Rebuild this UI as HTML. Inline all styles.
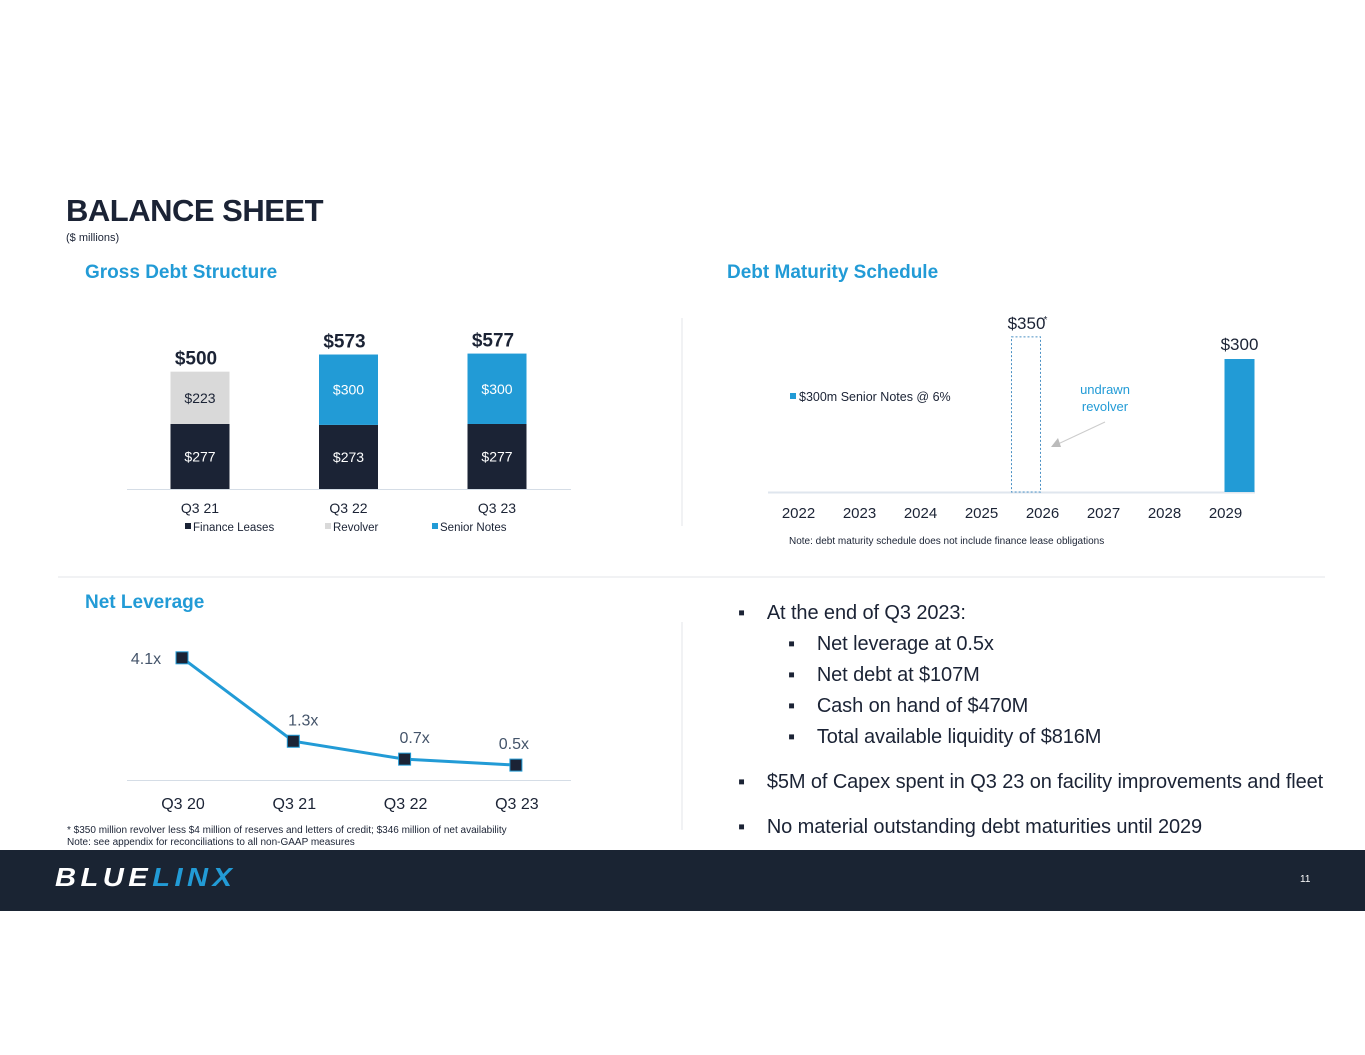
<!DOCTYPE html>
<html><head><meta charset="utf-8"><style>
body{margin:0;width:1365px;height:1055px;background:#fff;font-family:"Liberation Sans","DejaVu Sans",sans-serif;position:relative;overflow:hidden}
.a{position:absolute;white-space:nowrap}
</style></head><body>
<div class="a" style="left:66px;top:193px;font-size:31px;font-weight:bold;color:#1b2335;letter-spacing:-0.5px">BALANCE SHEET</div>
<div class="a" style="left:66px;top:232px;font-size:11px;color:#1b2335">($ millions)</div>
<div class="a" style="left:85px;top:262px;font-size:19px;font-weight:bold;color:#229bd6">Gross Debt Structure</div>
<div class="a" style="left:727px;top:262px;font-size:19px;font-weight:bold;color:#229bd6">Debt Maturity Schedule</div>
<div class="a" style="left:85px;top:592px;font-size:19px;font-weight:bold;color:#229bd6">Net Leverage</div>

<svg class="a" style="left:0;top:0" width="1365" height="1055">
<line x1="682" y1="318" x2="682" y2="526" stroke="#e3e6ea"/>
<line x1="682" y1="622" x2="682" y2="830" stroke="#e3e6ea"/>
<line x1="58" y1="577" x2="1325" y2="577" stroke="#e3e6ea"/>
<g id="g1"></g><g id="g2"></g><g id="g3"></g>
</svg>

<div class="a" style="left:738px;top:598px;font-size:20px;color:#1b2335;line-height:31px;letter-spacing:-0.1px">
<div>▪&nbsp;&nbsp;&nbsp;&nbsp;At the end of Q3 2023:</div>
<div style="padding-left:50px">▪&nbsp;&nbsp;&nbsp;&nbsp;Net leverage at 0.5x</div>
<div style="padding-left:50px">▪&nbsp;&nbsp;&nbsp;&nbsp;Net debt at $107M</div>
<div style="padding-left:50px">▪&nbsp;&nbsp;&nbsp;&nbsp;Cash on hand of $470M</div>
<div style="padding-left:50px">▪&nbsp;&nbsp;&nbsp;&nbsp;Total available liquidity of $816M</div>
<div style="margin-top:14px">▪&nbsp;&nbsp;&nbsp;&nbsp;$5M of Capex spent in Q3 23 on facility improvements and fleet</div>
<div style="margin-top:14px">▪&nbsp;&nbsp;&nbsp;&nbsp;No material outstanding debt maturities until 2029</div>
</div>
<div class="a" style="left:67px;top:825px;font-size:10px;color:#1b2335;line-height:12px">* $350 million revolver less $4 million of reserves and letters of credit; $346 million of net availability<br>Note: see appendix for reconciliations to all non-GAAP measures</div>
<div class="a" style="left:0;top:850px;width:1365px;height:61px;background:#1a2433"></div>
<div class="a" style="left:55px;top:862px;font-size:26px;font-weight:900;font-style:italic;letter-spacing:4px;color:#fff;transform:scaleX(1.12);transform-origin:left">BLUE<span style="color:#229bd6">LINX</span></div>
<div class="a" style="left:1300px;top:874px;font-size:10px;color:#fff">11</div>

<script>
const NS="http://www.w3.org/2000/svg";
function mk(p,t,a,txt){const e=document.createElementNS(NS,t);for(const k in a)e.setAttribute(k,a[k]);if(txt!=null)e.textContent=txt;p.appendChild(e);return e;}
// Gross debt
const gdCats=["Q3 21","Q3 22","Q3 23"];
const gdLeases=[277,273,277];
const gdRevolver=[223,0,0];
const gdNotes=[0,300,300];
const gdTotals=["$500","$573","$577"];
// Maturity
const matYears=["2022","2023","2024","2025","2026","2027","2028","2029"];
const matRevolver=[0,0,0,0,350,0,0,0];
const matNotes=[0,0,0,0,0,0,0,300];
// Leverage
const levCats=["Q3 20","Q3 21","Q3 22","Q3 23"];
const levVals=[4.1,1.3,0.7,0.5];

const g1=document.getElementById('g1');
const y1=v=>v*0.2347, base1=489, x1=i=>200+148.5*i;
mk(g1,'line',{x1:127,y1:base1+0.5,x2:571,y2:base1+0.5,stroke:'#d5dde6'});
gdCats.forEach((c,i)=>{
 const cx=x1(i);let top=base1;
 [[gdLeases[i],'#1b2335','#fff','finance-leases'],[gdRevolver[i],'#d9d9d9','#1b2335','revolver'],[gdNotes[i],'#229bd6','#fff','senior-notes']].forEach(([v,col,tc,n])=>{
  if(!v)return;const h=y1(v);top-=h;
  const r=mk(g1,'rect',{x:cx-29.5,y:top,width:59,height:h,fill:col});
  
  
  mk(g1,'text',{x:cx,y:top+h/2+5,'text-anchor':'middle','font-size':14,fill:tc},'$'+v);
 });
 mk(g1,'text',{x:cx-4,y:top-7,'text-anchor':'middle','font-size':19,'font-weight':'bold',fill:'#1b2335'},gdTotals[i]);
 mk(g1,'text',{x:cx,y:513,'text-anchor':'middle','font-size':14,fill:'#1b2335'},c);
});
[[185,'#1b2335','Finance Leases'],[325,'#d9d9d9','Revolver'],[432,'#229bd6','Senior Notes']].forEach(([x,c,t])=>{
 mk(g1,'rect',{x:x,y:523,width:6,height:6,fill:c});
 mk(g1,'text',{x:x+8,y:531,'font-size':11.5,fill:'#1b2335'},t);
});

const g2=document.getElementById('g2');
const y2=v=>v*0.4433, base2=492, x2=i=>798.5+61*i;
mk(g2,'line',{x1:768,y1:base2+0.5,x2:1255,y2:base2+0.5,stroke:'#dfe6ee',"stroke-width":2});
matYears.forEach((yr,i)=>{
 mk(g2,'text',{x:x2(i),y:518,'text-anchor':'middle','font-size':15,fill:'#1b2335'},yr);
 if(matRevolver[i]){const h=y2(matRevolver[i]);
  const r=mk(g2,'rect',{x:x2(i)-31,y:base2-h,width:29,height:h,fill:'none',stroke:'#4a90c4','stroke-dasharray':'2,2'});
  
  
  mk(g2,'text',{x:x2(i)-16,y:base2-h-8,'text-anchor':'middle','font-size':17,fill:'#1b2335'},'$'+matRevolver[i]);
  mk(g2,'text',{x:x2(i)+1,y:base2-h-14,'font-size':10,fill:'#1b2335'},'*');}
 if(matNotes[i]){const h=y2(matNotes[i]);
  const r=mk(g2,'rect',{x:x2(i)-1,y:base2-h,width:30,height:h,fill:'#229bd6'});
  
  
  mk(g2,'text',{x:x2(i)+14,y:base2-h-9,'text-anchor':'middle','font-size':17,fill:'#1b2335'},'$'+matNotes[i]);}
});
mk(g2,'rect',{x:790,y:393,width:6,height:6,fill:'#229bd6'});
mk(g2,'text',{x:799,y:401,'font-size':12.5,fill:'#1b2335'},'$300m Senior Notes @ 6%');
mk(g2,'text',{x:1105,y:394,'text-anchor':'middle','font-size':13,fill:'#229bd6'},'undrawn');
mk(g2,'text',{x:1105,y:411,'text-anchor':'middle','font-size':13,fill:'#229bd6'},'revolver');
mk(g2,'line',{x1:1105,y1:422,x2:1058,y2:444,stroke:'#ccc'});
mk(g2,'polygon',{points:'1051,447 1058,438 1061,447',fill:'#bbb'});
mk(g2,'text',{x:789,y:544,'font-size':10,fill:'#1b2335'},'Note: debt maturity schedule does not include finance lease obligations');

const g3=document.getElementById('g3');
const y3=v=>780-v*29.8, x3=i=>182+111.3*i;
const lblDx=[-36,10,10,-2];
mk(g3,'line',{x1:127,y1:780.5,x2:571,y2:780.5,stroke:'#d5dde6'});
const pts=levVals.map((v,i)=>x3(i)+','+y3(v)).join(' ');
mk(g3,'polyline',{points:pts,fill:'none',stroke:'#229bd6','stroke-width':3});
levVals.forEach((v,i)=>{
 const r=mk(g3,'rect',{x:x3(i)-6,y:y3(v)-6,width:12,height:12,fill:'#1b2335',stroke:'#229bd6','stroke-width':1});
 
 
 mk(g3,'text',{x:x3(i)+lblDx[i],y:i==0?y3(v)+6:y3(v)-16,'text-anchor':'middle','font-size':16,fill:'#44546a'},v.toFixed(1)+'x');
 mk(g3,'text',{x:x3(i)+1,y:809,'text-anchor':'middle','font-size':16,fill:'#1b2335'},levCats[i]);
});
</script>
</body></html>
